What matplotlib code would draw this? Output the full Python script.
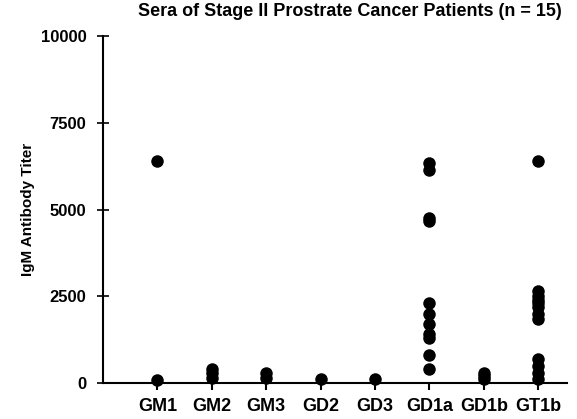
import matplotlib
matplotlib.use("Agg")
import matplotlib.pyplot as plt

# gangliosides on the x axis
categories = ["GM1", "GM2", "GM3", "GD2", "GD3", "GD1a", "GD1b", "GT1b"]

# IgM titers, one list per ganglioside
gm1 = [6400, 100]
gm2 = [400, 300, 150]
gm3 = [300, 150]
gd2 = [120]
gd3 = [120]
gd1a = [6350, 6150, 4760, 4680, 2300, 2000, 1700, 1400, 1300, 800, 400]
gd1b = [300, 200, 120]
gt1b = [6400, 2650, 2500, 2400, 2300, 2200, 2000, 1850, 700, 500, 300, 120]
series = [gm1, gm2, gm3, gd2, gd3, gd1a, gd1b, gt1b]

yticks = [0, 2500, 5000, 7500, 10000]

plt.rcParams["font.family"] = ["Liberation Sans", "DejaVu Sans"]
plt.rcParams["font.weight"] = "bold"

fig = plt.figure(figsize=(5.77, 4.19), dpi=100)
ax = fig.add_axes([0.1785, 0.0859, 0.8042, 0.8281])

for i, vals in enumerate(series, start=1):
    ax.plot([i] * len(vals), vals, "o", color="black", markersize=9,
            markeredgewidth=0, clip_on=False)

ax.set_xlim(0, 8.53)
ax.set_ylim(0, 10000)
ax.set_xticks(range(1, len(categories) + 1))
ax.set_xticklabels(categories, fontsize=13, fontweight="bold")
ax.set_yticks(yticks)
ax.set_yticklabels([str(t) for t in yticks], fontsize=12, fontweight="bold")
ax.tick_params(axis="x", direction="out", length=5, width=1.5, pad=6)
ax.tick_params(axis="y", direction="inout", length=8, width=1.2, pad=8)

for side in ["top", "right"]:
    ax.spines[side].set_visible(False)
for side in ["left", "bottom"]:
    ax.spines[side].set_linewidth(1.5)

ax.set_ylabel("IgM Antibody Titer", fontsize=11, fontweight="bold", labelpad=4)
fig.text(0.607, 0.972, "Sera of Stage II Prostrate Cancer Patients (n = 15)",
         ha="center", va="center", fontsize=13, fontweight="bold")

fig.savefig("out.png", dpi=100)
